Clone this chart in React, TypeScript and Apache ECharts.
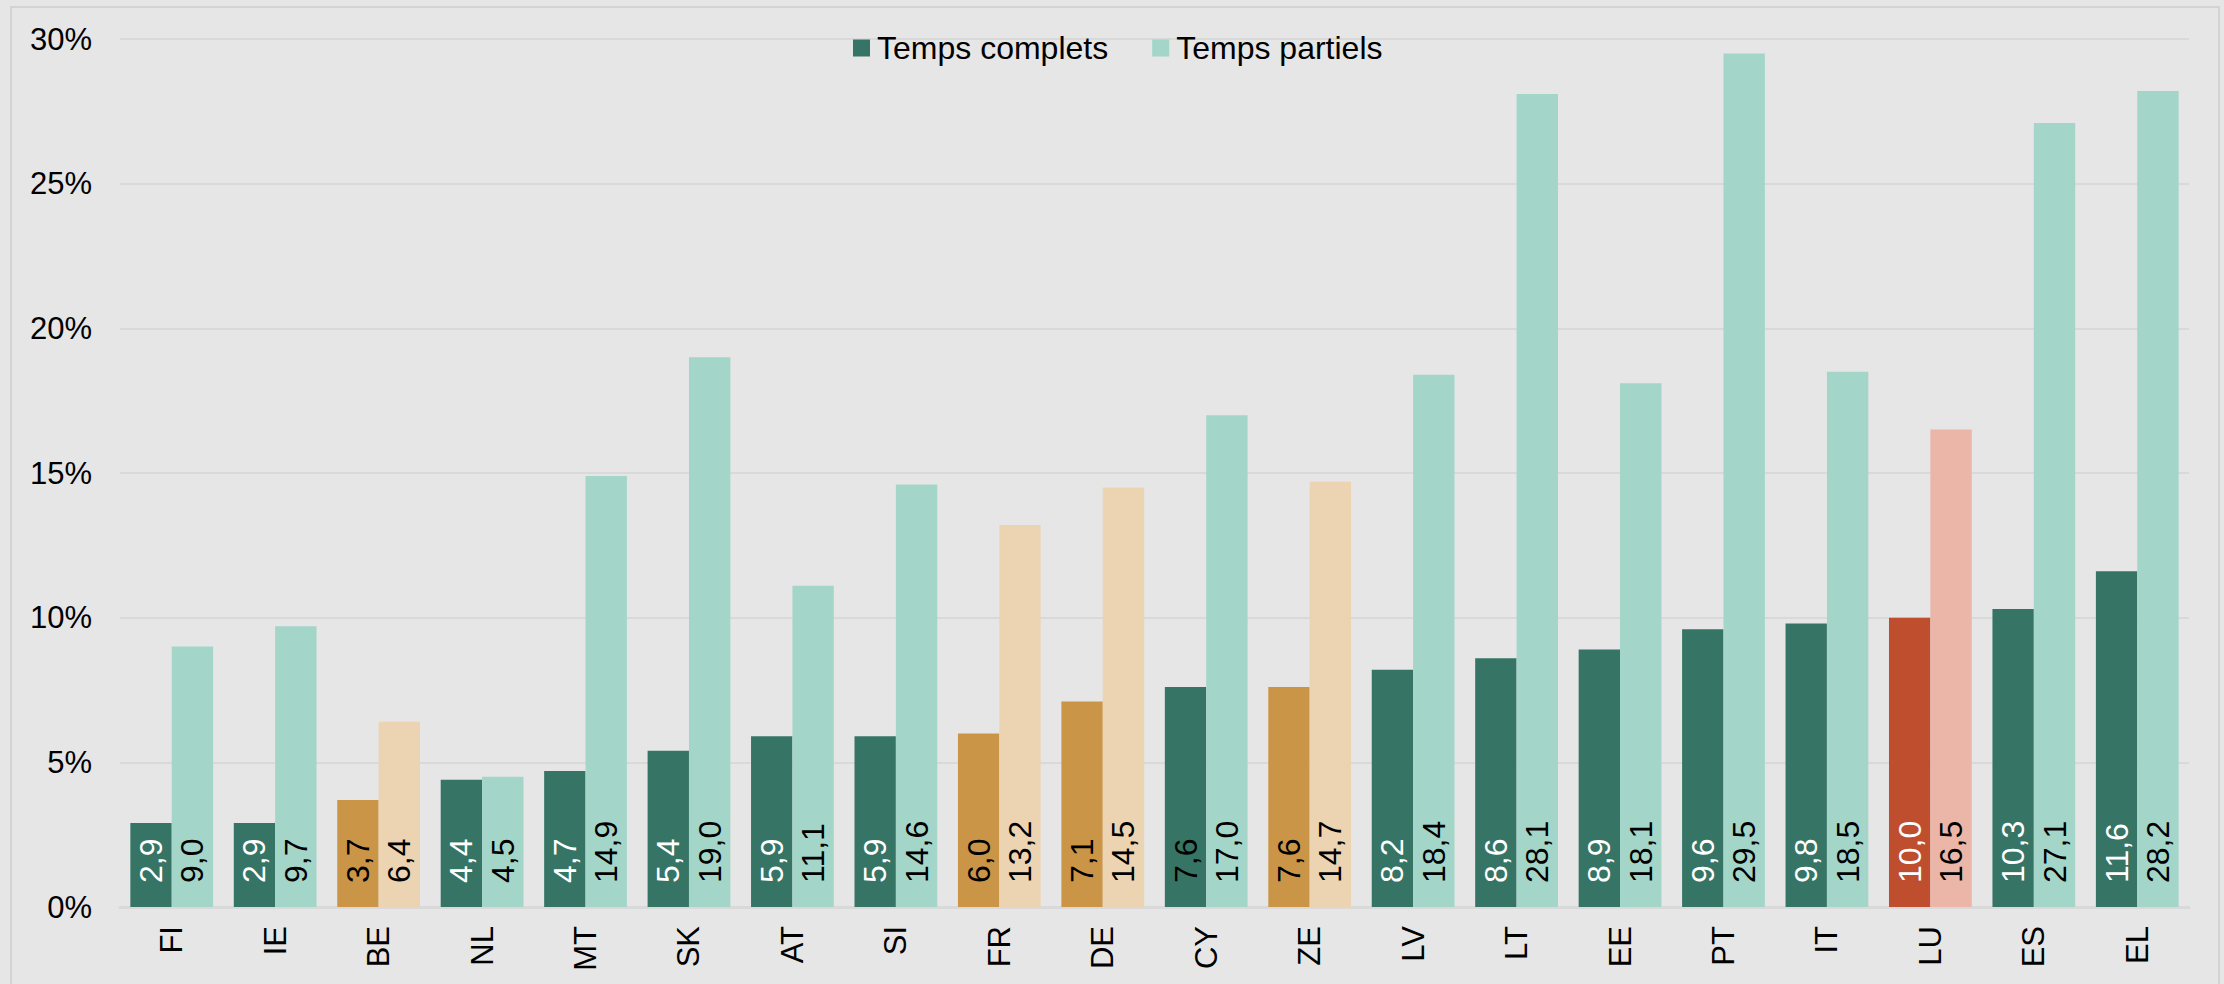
import React, { useEffect, useRef } from "react";
import * as echarts from "echarts";

const categories = ["FI", "IE", "BE", "NL", "MT", "SK", "AT", "SI", "FR", "DE", "CY", "ZE", "LV", "LT", "EE", "PT", "IT", "LU", "ES", "EL"];
const fullTime = [2.9, 2.9, 3.7, 4.4, 4.7, 5.4, 5.9, 5.9, 6.0, 7.1, 7.6, 7.6, 8.2, 8.6, 8.9, 9.6, 9.8, 10.0, 10.3, 11.6];
const partTime = [9.0, 9.7, 6.4, 4.5, 14.9, 19.0, 11.1, 14.6, 13.2, 14.5, 17.0, 14.7, 18.4, 28.1, 18.1, 29.5, 18.5, 16.5, 27.1, 28.2];
const seriesNames = ["Temps complets", "Temps partiels"];
const yMin = 0;
const yMax = 30;
const yStep = 5;
const orangeCats = ["BE", "FR", "DE", "ZE"];
const redCats = ["LU"];
const darkLabelCats = ["CY"];

const C = {
  bg: "#E6E6E6",
  grid: "#D9D9D9",
  border: "#D3D3D3",
  darkGreen: "#367565",
  lightGreen: "#A3D5C9",
  orange: "#CB9548",
  lightOrange: "#ECD4B3",
  red: "#BE4E2D",
  lightRed: "#EBB5A7",
};

const FONT = "'Liberation Sans', Arial, sans-serif";

const fmt = (v: number) => v.toFixed(1).replace(".", ",");

function colorsFor(cat: string) {
  if (redCats.includes(cat)) return [C.red, C.lightRed];
  if (orangeCats.includes(cat)) return [C.orange, C.lightOrange];
  return [C.darkGreen, C.lightGreen];
}

function labelColorFor(cat: string, idx: number) {
  if (idx === 1) return "#000";
  if (orangeCats.includes(cat) || darkLabelCats.includes(cat)) return "#000";
  return "#fff";
}

export default function App() {
  const ref = useRef<HTMLDivElement>(null);
  useEffect(() => {
    document.body.style.margin = "0";
    if (!ref.current) return;
    const chart = echarts.init(ref.current, null, { renderer: "svg" });
    const makeData = (vals: number[], idx: number) =>
      vals.map((v, i) => ({
        value: v,
        itemStyle: { color: colorsFor(categories[i])[idx] },
        label: { color: labelColorFor(categories[i], idx) },
      }));
    const labelCfg = {
      show: true,
      position: "insideBottom",
      rotate: 90,
      align: "left",
      verticalAlign: "middle",
      distance: 24,
      fontSize: 32,
      fontFamily: FONT,
      formatter: (p: any) => fmt(p.value),
    };
    chart.setOption({
      animation: false,
      backgroundColor: C.bg,
      textStyle: { fontFamily: FONT },
      graphic: [
        {
          type: "rect",
          shape: { x: 11, y: 7, width: 2208, height: 1000 },
          style: { fill: "none", stroke: C.border, lineWidth: 2 },
          silent: true,
        },
      ],
      legend: {
        left: 853,
        top: 32,
        padding: 0,
        itemWidth: 17,
        itemHeight: 17,
        itemGap: 44,
        icon: "rect",
        textStyle: { fontSize: 32, color: "#000", fontFamily: FONT, lineHeight: 32, padding: [0, 0, 0, 2] },
        data: [
          { name: seriesNames[0], itemStyle: { color: C.darkGreen } },
          { name: seriesNames[1], itemStyle: { color: C.lightGreen } },
        ],
      },
      grid: { left: 120, right: 35, top: 39, bottom: 77, containLabel: false, outerBoundsMode: "none" },
      xAxis: {
        type: "category",
        data: categories,
        axisTick: { show: false },
        axisLine: { lineStyle: { color: C.grid, width: 3 } },
        axisLabel: { rotate: 90, margin: 19, fontSize: 31, color: "#000", fontFamily: FONT, interval: 0 },
      },
      yAxis: {
        type: "value",
        min: yMin,
        max: yMax,
        interval: yStep,
        axisLine: { show: false },
        axisTick: { show: false },
        splitLine: { lineStyle: { color: C.grid, width: 2 } },
        axisLabel: { formatter: "{value}%", fontSize: 31, color: "#000", margin: 28, fontFamily: FONT },
      },
      series: [
        {
          name: seriesNames[0],
          type: "bar",
          barGap: "0%",
          barCategoryGap: "20%",
          data: makeData(fullTime, 0),
          label: labelCfg,
        },
        {
          name: seriesNames[1],
          type: "bar",
          barGap: "0%",
          barCategoryGap: "20%",
          data: makeData(partTime, 1),
          label: labelCfg,
        },
      ],
    });
    return () => chart.dispose();
  }, []);
  return <div ref={ref} style={{ width: 2224, height: 984 }} />;
}
